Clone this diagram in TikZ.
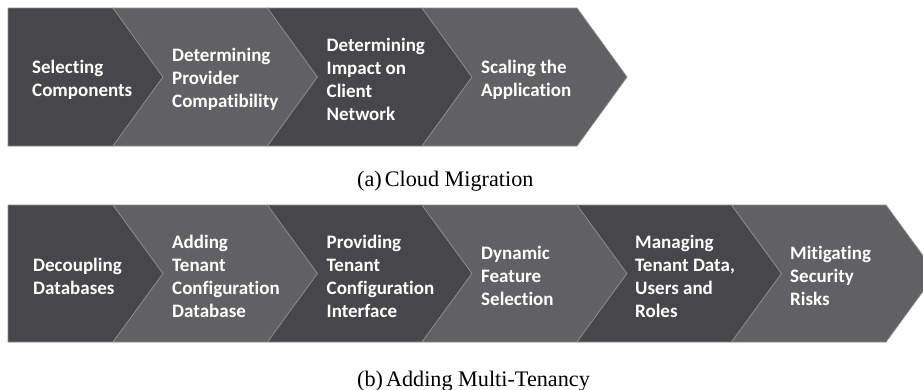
\documentclass[tikz,border=0pt]{standalone}
\usepackage{fontspec}
\setmainfont{Liberation Serif}
\setsansfont{Carlito}[Ligatures={NoCommon}]
\definecolor{chevdark}{HTML}{47474A}
\definecolor{chevlight}{HTML}{616163}
\definecolor{chevedge}{HTML}{8C8C8C}
\begin{document}
\begin{tikzpicture}[x=1pt,y=-1pt,
  darkbox/.style={fill=chevdark,draw=chevedge,line width=0.7pt,line join=miter},
  lightbox/.style={fill=chevlight,draw=chevedge,line width=0.7pt,line join=miter},
  chevtext/.style={anchor=west,align=left,text=white,inner sep=0pt,yshift=-2.5pt,
    font=\sffamily\bfseries\fontsize{19pt}{23pt}\selectfont},
  captext/.style={anchor=base west,inner sep=0pt,text=black,
    font=\rmfamily\fontsize{22.2pt}{25pt}\selectfont}]
\useasboundingbox (0,0) rectangle (923,389);
\clip (0,0) rectangle (923,389);
% ---------- row (a) ----------
\def\T{8}\def\B{146}\def\M{77}
\path[darkbox]  (8,\T) -- (113,\T) -- (163,\M) -- (113,\B) -- (8,\B) -- cycle;
\path[lightbox] (113,\T) -- (267.5,\T) -- (317.5,\M) -- (267.5,\B) -- (113,\B) -- (163,\M) -- cycle;
\path[darkbox]  (267.5,\T) -- (422,\T) -- (472,\M) -- (422,\B) -- (267.5,\B) -- (317.5,\M) -- cycle;
\path[lightbox] (422,\T) -- (577,\T) -- (627,\M) -- (577,\B) -- (422,\B) -- (472,\M) -- cycle;
\node[chevtext] (a1) at (32,\M) {Selecting\\Components};
\node[chevtext] (a2) at (172,\M) {Determining\\Provider\\Compatibility};
\node[chevtext] (a3) at (326.5,\M) {Determining\\Impact on\\Client\\Network};
\node[chevtext] (a4) at (481,\M) {Scaling the\\Application};
\node[captext] (capa) at (357,186) {(a)\hspace{3pt}Cloud Migration};
% ---------- row (b) ----------
\def\T{205}\def\B{342}\def\M{273.5}
\path[darkbox]  (8,\T) -- (113,\T) -- (163,\M) -- (113,\B) -- (8,\B) -- cycle;
\path[lightbox] (113,\T) -- (267.5,\T) -- (317.5,\M) -- (267.5,\B) -- (113,\B) -- (163,\M) -- cycle;
\path[darkbox]  (267.5,\T) -- (422,\T) -- (472,\M) -- (422,\B) -- (267.5,\B) -- (317.5,\M) -- cycle;
\path[lightbox] (422,\T) -- (577,\T) -- (627,\M) -- (577,\B) -- (422,\B) -- (472,\M) -- cycle;
\path[darkbox]  (577,\T) -- (731.5,\T) -- (781.5,\M) -- (731.5,\B) -- (577,\B) -- (627,\M) -- cycle;
\path[lightbox] (731.5,\T) -- (886,\T) -- (936,\M) -- (886,\B) -- (731.5,\B) -- (781.5,\M) -- cycle;
\node[chevtext] (b1) at (33,\M) {Decoupling\\Databases};
\node[chevtext] (b2) at (172,\M) {Adding\\Tenant\\Configuration\\Database};
\node[chevtext] (b3) at (326.5,\M) {Providing\\Tenant\\Configuration\\Interface};
\node[chevtext] (b4) at (481,\M) {Dynamic\\Feature\\Selection};
\node[chevtext] (b5) at (635,\M) {Managing\\Tenant Data,\\Users and\\Roles};
\node[chevtext] (b6) at (790,\M) {Mitigating\\Security\\Risks};
\node[captext] (capb) at (357,386) {(b)\hspace{3pt}Adding Multi-Tenancy};
\end{tikzpicture}
\end{document}
